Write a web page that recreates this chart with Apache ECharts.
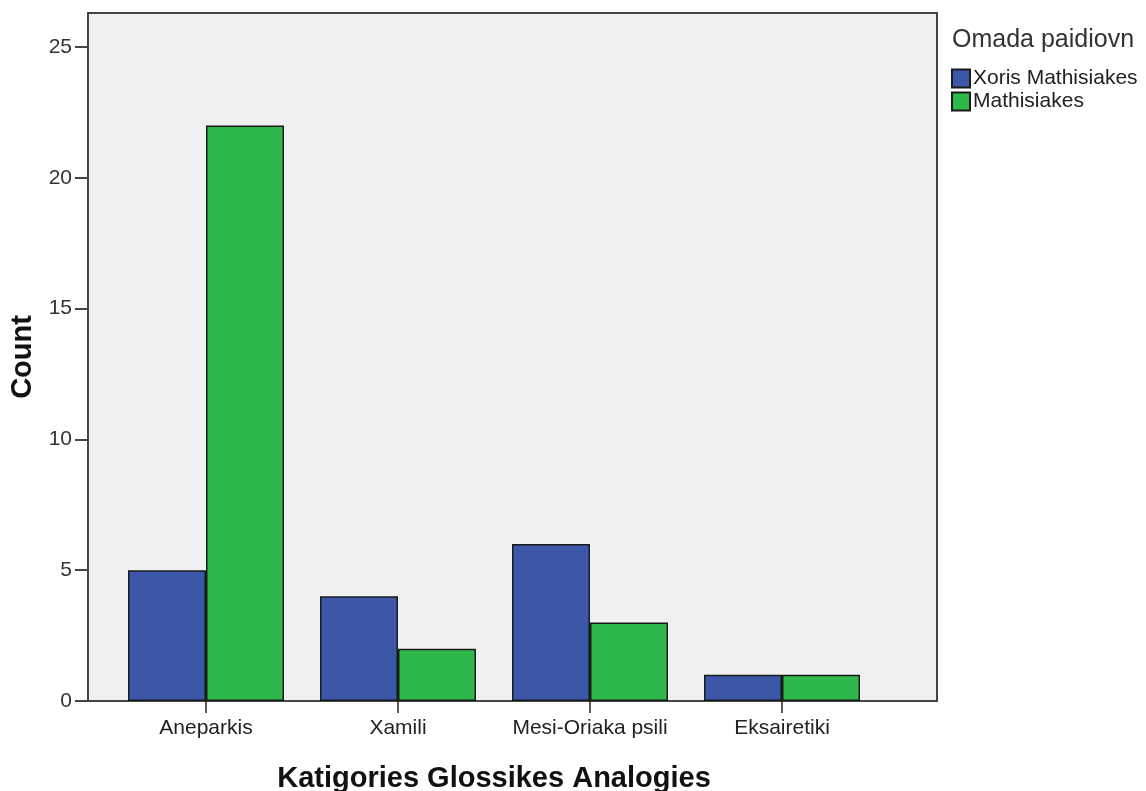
<!DOCTYPE html>
<html><head><meta charset="utf-8">
<script src="https://cdn.jsdelivr.net/npm/echarts@6/dist/echarts.min.js"></script>
<style>html,body{margin:0;padding:0;background:#fff}#c{width:1146px;height:791px}</style>
</head><body><div id="c"></div>
<script>
const categories = ['Aneparkis', 'Xamili', 'Mesi-Oriaka psili', 'Eksairetiki'];
const seriesNames = ['Xoris Mathisiakes', 'Mathisiakes'];
const xorisValues = [5, 4, 6, 1];
const mathisiakesValues = [22, 2, 3, 1];
const yTicks = [0, 5, 10, 15, 20, 25];

const FONT = '"Liberation Sans", Arial, sans-serif';
const chart = echarts.init(document.getElementById('c'), null, {renderer: 'canvas'});
const yMax = 26.3;
chart.setOption({
  animation: false,
  backgroundColor: '#fff',
  textStyle: {fontFamily: FONT},
  legend: {
    orient: 'vertical', left: 946, top: 63,
    itemWidth: 18, itemHeight: 18, itemGap: 2,
    icon: 'rect',
    textStyle: {fontSize: 21, color: '#222', fontFamily: FONT, lineHeight: 18, padding: [0,0,0,-2]},
    data: seriesNames
  },
  graphic: [{
    type: 'text', left: 952, top: 28,
    style: {text: 'Omada paidiovn', font: '25px "Liberation Sans", Arial, sans-serif', fill: '#333'}
  }],
  grid: [
    {left: 88, right: 209, top: 13, bottom: 90, outerBoundsMode: 'none', show: true, backgroundColor: '#f0f0f0', borderColor: '#444', borderWidth: 2},
    {left: 110, width: 768, top: 13, bottom: 90, outerBoundsMode: 'none'}
  ],
  xAxis: [
    {gridIndex: 0, type: 'value', min: 0, max: 1, show: false},
    {gridIndex: 1, type: 'category', data: categories,
     axisLine: {show: false},
     axisTick: {show: true, alignWithLabel: true, length: 12, lineStyle: {color: '#222', width: 1.5}},
     axisLabel: {fontSize: 21, color: '#222', margin: 17, interval: 0, fontFamily: FONT},
     name: 'Katigories Glossikes Analogies', nameLocation: 'middle', nameGap: 63,
     nameTextStyle: {fontSize: 29, fontWeight: 'bold', color: '#111', fontFamily: FONT}},
  ],
  yAxis: [
    {gridIndex: 0, type: 'value', min: 0, max: yMax, interval: 5,
     axisLine: {show: true, lineStyle: {color: '#444', width: 2}},
     axisTick: {show: true, length: 13, customValues: yTicks, lineStyle: {color: '#444', width: 2}},
     axisLabel: {fontSize: 21, color: '#333', margin: 16, customValues: yTicks, fontFamily: FONT},
     splitLine: {show: false},
     name: 'Count', nameLocation: 'middle', nameGap: 49, nameRotate: 90,
     nameTextStyle: {fontSize: 29, fontWeight: 'bold', color: '#111', fontFamily: FONT}},
    {gridIndex: 1, type: 'value', min: 0, max: yMax, show: false, splitLine: {show: false}}
  ],
  series: [
    {name: seriesNames[0], type: 'bar', xAxisIndex: 1, yAxisIndex: 1, data: xorisValues,
     barWidth: 78, barGap: '0%',
     itemStyle: {color: '#3c56a8', borderColor: '#1a1a1a', borderWidth: 1.5}},
    {name: seriesNames[1], type: 'bar', xAxisIndex: 1, yAxisIndex: 1, data: mathisiakesValues,
     barWidth: 78, barGap: '0%',
     itemStyle: {color: '#2fb84a', borderColor: '#1a1a1a', borderWidth: 1.5}}
  ]
});
</script></body></html>
